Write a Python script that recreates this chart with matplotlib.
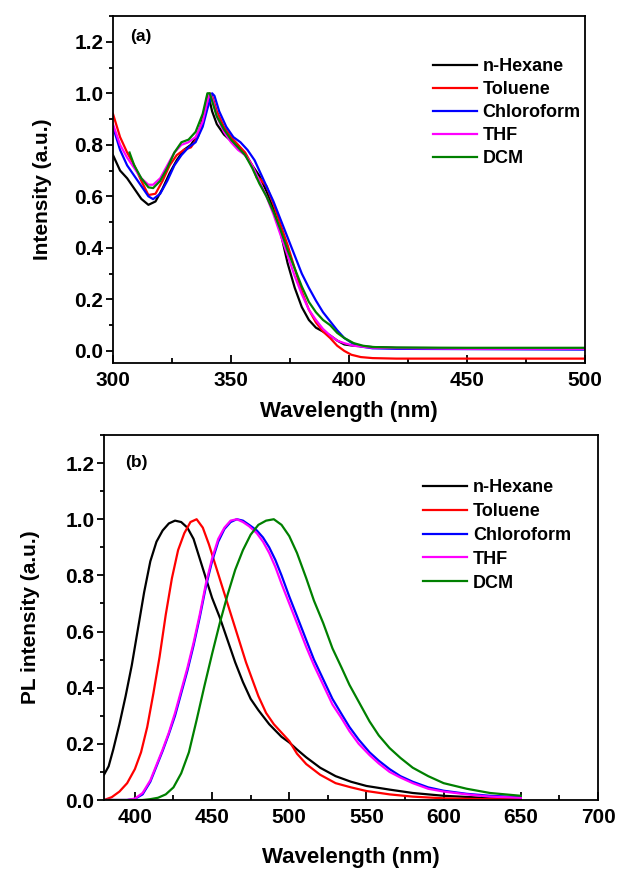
import matplotlib
matplotlib.use("Agg")
import matplotlib.pyplot as plt
from matplotlib.ticker import MultipleLocator, FormatStrFormatter

plt.rcParams['font.family'] = ['Liberation Sans', 'DejaVu Sans']
plt.rcParams['font.weight'] = 'bold'

solvents = ["n-Hexane", "Toluene", "Chloroform", "THF", "DCM"]
colors = ["#000000", "#ff0000", "#0000ff", "#ff00ff", "#008000"]

# ---- (a) UV-vis absorption, normalized ----
abs_hex_wl = [300, 303, 306, 309, 312, 315, 318, 321, 324, 327, 330, 333, 336, 338, 340, 341, 342,
              344, 347, 350, 353, 356, 359, 362, 365, 368, 371, 374, 377, 380, 383, 386, 389, 392,
              395, 398, 402, 410, 420, 450, 500]
abs_hex = [0.76, 0.70, 0.67, 0.63, 0.59, 0.567, 0.58, 0.63, 0.69, 0.74, 0.78, 0.80, 0.84, 0.90, 0.99,
           0.97, 0.93, 0.88, 0.84, 0.815, 0.79, 0.76, 0.72, 0.68, 0.62, 0.55, 0.46, 0.34, 0.245,
           0.17, 0.12, 0.09, 0.075, 0.06, 0.04, 0.025, 0.02, 0.015, 0.012, 0.01, 0.01]

abs_tol_wl = [300, 303, 306, 309, 312, 315, 318, 321, 324, 327, 330, 333, 336, 338, 340, 341, 342,
              344, 347, 350, 353, 356, 359, 361, 362, 365, 368, 371, 374, 377, 380, 383, 386, 389,
              392, 395, 398, 401, 405, 410, 420, 450, 500]
abs_tol = [0.92, 0.83, 0.77, 0.72, 0.66, 0.605, 0.61, 0.66, 0.72, 0.76, 0.78, 0.79, 0.83, 0.89, 0.97,
           1.0, 0.99, 0.93, 0.87, 0.83, 0.80, 0.77, 0.72, 0.67, 0.67, 0.64, 0.57, 0.49, 0.41, 0.32,
           0.23, 0.16, 0.11, 0.075, 0.05, 0.02, 0.0, -0.015, -0.024, -0.028, -0.03, -0.03, -0.03]

abs_chl_wl = [300, 303, 306, 309, 312, 315, 317, 320, 323, 326, 329, 332, 335, 338, 340, 342, 343,
              345, 348, 351, 354, 357, 360, 362, 365, 368, 371, 374, 377, 380, 383, 386, 389, 392,
              395, 398, 401, 405, 410, 420, 500]
abs_chl = [0.87, 0.78, 0.72, 0.68, 0.64, 0.60, 0.589, 0.61, 0.66, 0.72, 0.76, 0.79, 0.81, 0.87, 0.94,
           1.0, 0.99, 0.93, 0.87, 0.83, 0.81, 0.78, 0.74, 0.70, 0.64, 0.58, 0.51, 0.44, 0.37, 0.30,
           0.245, 0.195, 0.15, 0.115, 0.08, 0.05, 0.032, 0.017, 0.01, 0.008, 0.005]

abs_thf_wl = [300, 303, 306, 309, 312, 315, 317, 320, 323, 326, 329, 332, 335, 338, 340, 341, 342,
              344, 347, 350, 353, 356, 359, 362, 365, 368, 371, 374, 377, 380, 383, 386, 389, 392,
              395, 398, 402, 410, 450, 500]
abs_thf = [0.88, 0.80, 0.75, 0.71, 0.67, 0.645, 0.645, 0.67, 0.72, 0.77, 0.80, 0.81, 0.83, 0.89, 0.97,
           1.0, 0.98, 0.91, 0.85, 0.81, 0.78, 0.76, 0.72, 0.66, 0.60, 0.53, 0.45, 0.37, 0.29, 0.22,
           0.16, 0.12, 0.085, 0.06, 0.04, 0.03, 0.02, 0.012, 0.008, 0.008]

abs_dcm_wl = [307, 309, 312, 315, 317, 320, 323, 326, 329, 332, 335, 338, 340, 341, 342, 344, 347,
              350, 353, 356, 359, 362, 365, 368, 371, 374, 377, 380, 383, 386, 389, 392, 395, 398,
              402, 406, 410, 420, 450, 500]
abs_dcm = [0.77, 0.72, 0.67, 0.635, 0.632, 0.66, 0.71, 0.77, 0.81, 0.82, 0.85, 0.92, 1.0, 1.0, 0.97,
           0.91, 0.86, 0.82, 0.79, 0.76, 0.71, 0.65, 0.60, 0.54, 0.47, 0.39, 0.32, 0.25, 0.19, 0.15,
           0.12, 0.10, 0.07, 0.05, 0.03, 0.02, 0.015, 0.013, 0.012, 0.012]

# ---- (b) photoluminescence, normalized ----
pl_hex_wl = [380, 383, 386, 390, 394, 398, 402, 406, 410, 414, 418, 422, 426, 430, 434, 438, 442, 446,
             450, 455, 460, 465, 470, 475, 480, 487, 495, 500, 505, 511, 520, 530, 540, 550, 565,
             580, 600, 625, 650]
pl_hex = [0.09, 0.12, 0.18, 0.27, 0.37, 0.48, 0.61, 0.74, 0.85, 0.92, 0.96, 0.985, 0.995, 0.99, 0.97,
          0.93, 0.86, 0.79, 0.72, 0.65, 0.57, 0.49, 0.42, 0.36, 0.32, 0.27, 0.225, 0.205, 0.18, 0.152,
          0.115, 0.085, 0.065, 0.05, 0.037, 0.025, 0.015, 0.008, 0.005]

pl_tol_wl = [380, 385, 390, 395, 400, 404, 408, 412, 416, 420, 424, 428, 432, 436, 440, 444, 448, 452,
             456, 460, 464, 468, 472, 476, 480, 485, 490, 495, 500, 505, 511, 520, 530, 540, 550,
             565, 580, 600, 625, 650]
pl_tol = [0.0, 0.01, 0.03, 0.06, 0.11, 0.17, 0.26, 0.38, 0.51, 0.66, 0.79, 0.89, 0.95, 0.99, 1.0, 0.97,
          0.91, 0.84, 0.77, 0.70, 0.63, 0.56, 0.49, 0.43, 0.37, 0.31, 0.27, 0.24, 0.21, 0.165, 0.128,
          0.09, 0.06, 0.045, 0.032, 0.02, 0.012, 0.006, 0.003, 0.002]

pl_chl_wl = [380, 395, 400, 405, 410, 414, 418, 422, 426, 430, 434, 438, 442, 446, 450, 454, 458, 462,
             466, 470, 474, 479, 483, 487, 491, 495, 500, 505, 511, 516, 522, 528, 534, 539, 545,
             552, 558, 565, 572, 580, 590, 600, 615, 630, 650]
pl_chl = [0.0, 0.0, 0.004, 0.02, 0.065, 0.12, 0.175, 0.235, 0.30, 0.38, 0.46, 0.55, 0.65, 0.76, 0.85,
          0.92, 0.965, 0.99, 1.0, 0.995, 0.98, 0.96, 0.935, 0.90, 0.855, 0.80, 0.725, 0.655, 0.57,
          0.50, 0.43, 0.36, 0.305, 0.26, 0.215, 0.17, 0.14, 0.11, 0.085, 0.065, 0.045, 0.033, 0.022,
          0.015, 0.01]

pl_thf_wl = [380, 395, 400, 405, 410, 414, 418, 422, 426, 430, 434, 438, 442, 446, 450, 454, 458, 462,
             466, 470, 474, 479, 483, 487, 491, 495, 500, 505, 511, 516, 522, 528, 534, 539, 545,
             552, 558, 565, 572, 580, 590, 600, 615, 630, 650]
pl_thf = [0.0, 0.0, 0.005, 0.025, 0.07, 0.125, 0.18, 0.24, 0.31, 0.39, 0.47, 0.56, 0.66, 0.77, 0.86,
          0.93, 0.97, 0.995, 1.0, 0.99, 0.975, 0.95, 0.92, 0.88, 0.83, 0.77, 0.70, 0.63, 0.545, 0.48,
          0.41, 0.34, 0.29, 0.245, 0.20, 0.16, 0.13, 0.10, 0.08, 0.06, 0.04, 0.03, 0.02, 0.012, 0.008]

pl_dcm_wl = [380, 395, 405, 410, 415, 420, 425, 430, 435, 440, 445, 450, 455, 460, 465, 470, 475, 480,
             485, 490, 495, 500, 505, 511, 516, 522, 528, 534, 539, 545, 552, 558, 565, 572, 580,
             590, 600, 615, 630, 650]
pl_dcm = [0.0, 0.0, 0.0, 0.003, 0.008, 0.02, 0.045, 0.095, 0.17, 0.285, 0.405, 0.52, 0.63, 0.73, 0.82,
          0.89, 0.945, 0.98, 0.995, 1.0, 0.98, 0.94, 0.88, 0.79, 0.71, 0.63, 0.54, 0.47, 0.41, 0.35,
          0.28, 0.23, 0.185, 0.15, 0.115, 0.085, 0.06, 0.04, 0.025, 0.015]

abs_series = [(abs_hex_wl, abs_hex), (abs_tol_wl, abs_tol), (abs_chl_wl, abs_chl),
              (abs_thf_wl, abs_thf), (abs_dcm_wl, abs_dcm)]
pl_series = [(pl_hex_wl, pl_hex), (pl_tol_wl, pl_tol), (pl_chl_wl, pl_chl),
             (pl_thf_wl, pl_thf), (pl_dcm_wl, pl_dcm)]

W, H = 621, 873
fig = plt.figure(figsize=(W / 100, H / 100), dpi=100)
fig.patch.set_facecolor("white")

ax_a = fig.add_axes([113 / W, 1 - 363 / H, (585 - 113) / W, (363 - 16) / H])
ax_b = fig.add_axes([104 / W, 1 - 800 / H, (598 - 104) / W, (800 - 435) / H])

def style(ax, xlim, ylim, xmaj, xmin):
    ax.set_xlim(*xlim)
    ax.set_ylim(*ylim)
    ax.xaxis.set_major_locator(MultipleLocator(xmaj))
    ax.xaxis.set_minor_locator(MultipleLocator(xmin))
    ax.yaxis.set_major_locator(MultipleLocator(0.2))
    ax.yaxis.set_minor_locator(MultipleLocator(0.1))
    ax.yaxis.set_major_formatter(FormatStrFormatter("%.1f"))
    for s in ax.spines.values():
        s.set_linewidth(1.3)
    ax.tick_params(axis="x", which="major", direction="in", length=6, width=1.3,
                   labelsize=15, pad=6)
    ax.tick_params(axis="x", which="minor", direction="in", length=3.5, width=1.3)
    ax.tick_params(axis="y", which="major", direction="out", length=5, width=1.3,
                   labelsize=15, pad=2)
    ax.tick_params(axis="y", which="minor", direction="out", length=3, width=1.3)
    for lab in ax.get_xticklabels() + ax.get_yticklabels():
        lab.set_fontweight("bold")

legend_kw = dict(loc="upper left", frameon=False, handlelength=2.45, handletextpad=0.3,
                 borderpad=0, borderaxespad=0, prop={"weight": "bold", "size": 13})

for (wl, y), c, name in zip(abs_series, colors, solvents):
    ax_a.plot(wl, y, color=c, lw=1.6, label=name)
style(ax_a, (300, 500), (-0.047, 1.30), 50, 25)
ax_a.set_xlabel("Wavelength (nm)", fontsize=16, fontweight="bold", labelpad=8)
ax_a.set_ylabel("Intensity (a.u.)", fontsize=15, fontweight="bold", labelpad=16)
ax_a.text(0.036, 0.94, "(a)", transform=ax_a.transAxes, fontsize=12.5, fontweight="bold",
          va="center", ha="left")
ax_a.legend(bbox_to_anchor=(0.678, 0.879), labelspacing=0.33, **legend_kw)

for (wl, y), c, name in zip(pl_series, colors, solvents):
    ax_b.plot(wl, y, color=c, lw=1.6, label=name)
style(ax_b, (380, 700), (0, 1.30), 50, 25)
ax_b.set_xlabel("Wavelength (nm)", fontsize=16, fontweight="bold", labelpad=14)
ax_b.set_ylabel("PL intensity (a.u.)", fontsize=15, fontweight="bold", labelpad=18)
ax_b.text(0.043, 0.926, "(b)", transform=ax_b.transAxes, fontsize=12.5, fontweight="bold",
          va="center", ha="left")
ax_b.legend(bbox_to_anchor=(0.646, 0.879), labelspacing=0.38, **legend_kw)

fig.savefig("out.png", dpi=100, facecolor="white")
